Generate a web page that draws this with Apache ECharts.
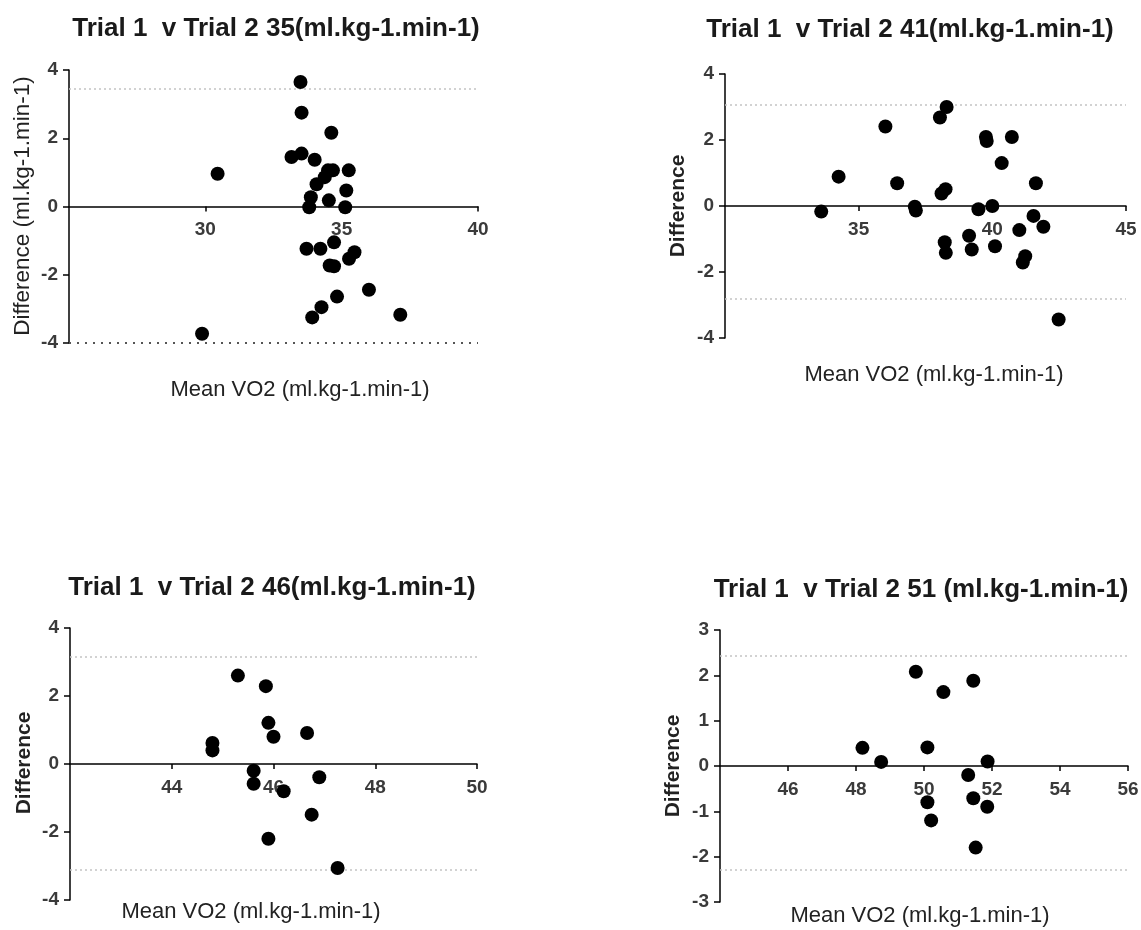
<!DOCTYPE html>
<html>
<head>
<meta charset="UTF-8">
<title>Trial 1 v Trial 2</title>
<script src="https://cdn.jsdelivr.net/npm/echarts@6/dist/echarts.min.js"></script>
<style>
    body { margin: 0; background: #fff; }
    #main { width: 1141px; height: 930px; }
</style>
</head>
<body>
<div id="main"></div>
<script type="text/javascript">
    // values
    var mean35 = [33.49, 33.53, 34.62, 33.16, 33.53, 34.01, 30.45, 34.50, 34.68, 35.26, 34.38, 34.08, 35.17, 33.87, 34.53,
                  33.81, 35.13, 34.72, 33.71, 34.22, 35.47, 35.27, 34.56, 34.72, 36.00, 34.83, 34.26, 33.92, 37.15, 29.88];
    var diff35 = [3.65, 2.75, 2.16, 1.45, 1.55, 1.37, 0.96, 1.06, 1.06, 1.06, 0.86, 0.65, 0.47, 0.27, 0.18,
                  -0.02, -0.02, -1.05, -1.24, -1.24, -1.34, -1.53, -1.73, -1.75, -2.44, -2.64, -2.95, -3.25, -3.17, -3.73];

    var mean41 = [33.6, 34.25, 36.0, 36.44, 37.1, 37.14, 38.04, 38.29, 38.1, 38.25, 38.22, 38.26, 39.13, 39.23,
                  39.48, 39.76, 39.79, 40.0, 40.1, 40.35, 40.73, 41.01, 41.14, 41.23, 41.54, 41.63, 41.91, 42.48];
    var diff41 = [-0.17, 0.89, 2.41, 0.69, -0.02, -0.14, 2.68, 3.0, 0.38, 0.51, -1.10, -1.42, -0.90, -1.32,
                  -0.10, 2.09, 1.97, 0.0, -1.22, 1.30, 2.09, -0.73, -1.71, -1.52, -0.30, 0.69, -0.63, -3.44];

    var mean46 = [44.8, 44.8, 45.3, 45.61, 45.61, 45.85, 45.9, 45.9, 46.0, 46.2, 46.66, 46.75, 46.9, 47.26];
    var diff46 = [0.62, 0.40, 2.60, -0.20, -0.58, 2.29, 1.21, -2.20, 0.80, -0.80, 0.91, -1.49, -0.39, -3.06];

    var mean51 = [48.19, 48.74, 49.76, 50.10, 50.57, 50.10, 50.21, 51.30, 51.45, 51.45, 51.52, 51.87, 51.86];
    var diff51 = [0.40, 0.09, 2.08, 0.41, 1.63, -0.80, -1.20, -0.20, 1.88, -0.71, -1.80, 0.10, -0.90];

    // limits of agreement (upper, lower)
    var limits35 = [3.45, -3.98];
    var limits41 = [3.08, -2.80];
    var limits46 = [3.14, -3.10];
    var limits51 = [2.44, -2.28];

    var titles = ['Trial 1  v Trial 2 35(ml.kg-1.min-1)', 'Trial 1  v Trial 2 41(ml.kg-1.min-1)',
                  'Trial 1  v Trial 2 46(ml.kg-1.min-1)', 'Trial 1  v Trial 2 51 (ml.kg-1.min-1)'];
    var xName = 'Mean VO2 (ml.kg-1.min-1)';
    var yNames = ['Difference (ml.kg-1.min-1)', 'Difference', 'Difference', 'Difference'];

    var xMin = [25, 30, 42, 44], xMax = [40, 45, 50, 56], xStep = [5, 5, 2, 2];
    var yMin = [-4, -4, -4, -3], yMax = [4, 4, 4, 3], yStep = [2, 2, 2, 1];

    // layout of each panel
    var boxes = [
        {left: 69, top: 70, width: 409, height: 273},
        {left: 725, top: 74, width: 401, height: 264},
        {left: 70, top: 628, width: 407, height: 272},
        {left: 720, top: 630, width: 408, height: 272}
    ];
    var titlePos = [[276, 29], [910, 30], [272, 588], [921, 590]];
    var xNamePos = [[300, 390], [934, 375], [251, 912], [920, 916]];
    var yNamePos = [[23, 206], [678, 206], [24, 763], [673, 766]];

    var font = '"Liberation Sans", Arial, sans-serif';
    var allMeans = [mean35, mean41, mean46, mean51];
    var allDiffs = [diff35, diff41, diff46, diff51];
    var allLimits = [limits35, limits41, limits46, limits51];

    var grids = [], xAxes = [], yAxes = [], series = [], graphics = [];
    for (var i = 0; i < 4; i++) {
        grids.push({left: boxes[i].left, top: boxes[i].top, width: boxes[i].width, height: boxes[i].height,
                    outerBoundsMode: 'none'});
        // x axis sits on the zero line, labels go with it
        var zeroShift = boxes[i].height * (0 - yMin[i]) / (yMax[i] - yMin[i]);
        xAxes.push({
            type: 'value', gridIndex: i, min: xMin[i], max: xMax[i], interval: xStep[i],
            position: 'bottom', offset: -zeroShift,
            axisLine: {show: true, onZero: false, lineStyle: {color: '#000', width: 1.5}},
            axisTick: {show: true, inside: false, length: 5, lineStyle: {color: '#000', width: 1.5}},
            axisLabel: {showMinLabel: false, margin: 14, color: '#3a3a3a', fontSize: 19, fontWeight: 'bold', fontFamily: font},
            splitLine: {show: false}
        });
        yAxes.push({
            type: 'value', gridIndex: i, min: yMin[i], max: yMax[i], interval: yStep[i],
            axisLine: {show: true, onZero: false, lineStyle: {color: '#000', width: 1.5}},
            axisTick: {show: true, length: 6, lineStyle: {color: '#000', width: 1.5}},
            axisLabel: {margin: 11, color: '#3a3a3a', fontSize: 19, fontWeight: 'bold', fontFamily: font},
            splitLine: {show: false}
        });
        // limit lines first so the dots sit on top of them
        var lowColor = i === 0 ? '#555' : '#c4c4c4';
        series.push({
            type: 'line', xAxisIndex: i, yAxisIndex: i, data: [], z: 1,
            markLine: {
                silent: true, symbol: 'none', label: {show: false}, z: 1,
                data: [
                    {yAxis: allLimits[i][0], lineStyle: {color: '#c4c4c4', type: [2, 3], width: 1.5}},
                    {yAxis: allLimits[i][1], lineStyle: {color: lowColor, type: i === 0 ? [2, 6] : [2, 3], width: i === 0 ? 2 : 1.5}}
                ]
            }
        });
        var pts = [];
        for (var k = 0; k < allMeans[i].length; k++) {
            pts.push([allMeans[i][k], allDiffs[i][k]]);
        }
        series.push({
            type: 'scatter', xAxisIndex: i, yAxisIndex: i, z: 10,
            symbol: 'circle', symbolSize: 14,
            itemStyle: {color: '#000', opacity: 1},
            data: pts
        });
        graphics.push({
            type: 'text', x: titlePos[i][0], y: titlePos[i][1],
            style: {text: titles[i], align: 'center', verticalAlign: 'middle', fill: '#1a1a1a',
                    font: 'bold 26px ' + font}
        });
        graphics.push({
            type: 'text', x: xNamePos[i][0], y: xNamePos[i][1],
            style: {text: xName, align: 'center', verticalAlign: 'middle', fill: '#222',
                    font: '22px ' + font}
        });
        graphics.push({
            type: 'text', x: yNamePos[i][0], y: yNamePos[i][1], rotation: Math.PI / 2,
            style: {text: yNames[i], align: 'center', verticalAlign: 'middle', fill: '#222',
                    font: (i === 0 ? '22.5px ' : 'bold 21px ') + font}
        });
    }

    var myChart = echarts.init(document.getElementById('main'));
    myChart.setOption({
        animation: false,
        backgroundColor: '#fff',
        grid: grids,
        xAxis: xAxes,
        yAxis: yAxes,
        series: series,
        graphic: graphics
    });
</script>
</body>
</html>
